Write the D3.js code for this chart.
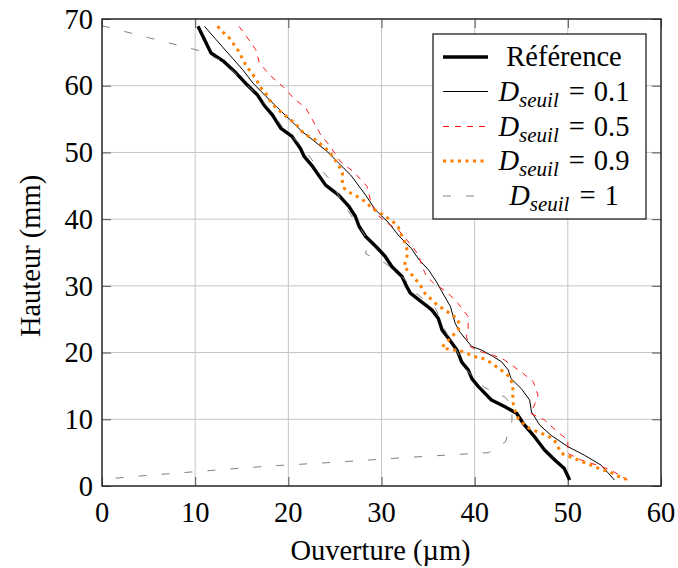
<!DOCTYPE html>
<html><head><meta charset="utf-8">
<script src="https://cdn.jsdelivr.net/npm/d3@7"></script>
<style>html,body{margin:0;padding:0;background:#fff;}svg{display:block;}</style>
</head><body>
<svg id="c" width="678" height="568"></svg>
<script>
// [Ouverture (µm), Hauteur (mm)]
const reference = [[10.3,68.9],[11.7,64.9],[13.1,63.6],[14.4,61.9],[15.6,60.1],[16.7,58.6],[17.4,57.1],[18.3,55.6],[19.2,53.6],[20.4,52.4],[21.3,50.6],[21.7,49.4],[22.6,47.9],[24.0,45.1],[25.4,43.6],[26.5,41.9],[27.2,40.4],[27.6,38.9],[28.3,37.4],[29.4,35.9],[30.4,34.4],[31.1,32.9],[32.2,31.4],[32.7,29.9],[33.1,28.9],[34.3,27.6],[35.4,26.4],[36.1,25.1],[36.5,23.4],[37.2,22.1],[38.1,20.4],[38.6,18.6],[39.3,17.4],[39.7,16.1],[40.4,14.9],[41.8,12.9],[43.2,11.9],[44.5,10.9],[45.2,9.4],[46.3,7.6],[47.5,5.4],[48.6,3.9],[49.6,2.65],[50.2,0.9]];
const seuil01 = [[11.0,68.9],[12.25,66.9],[13.7,64.6],[15.1,62.4],[16.2,60.4],[17.1,59.1],[18.7,56.9],[20.1,55.0],[21.5,53.1],[22.6,51.9],[24.2,50.1],[25.4,48.4],[26.7,46.6],[28.3,43.6],[29.35,41.4],[30.8,39.4],[31.8,37.6],[33.2,35.6],[34.0,34.0],[35.1,32.3],[35.9,30.6],[36.5,29.1],[37.4,26.9],[37.9,24.4],[38.4,23.1],[39.1,21.9],[39.7,20.9],[40.7,20.4],[42.0,19.4],[42.9,18.6],[43.6,17.4],[43.9,16.1],[45.0,14.6],[45.9,12.9],[46.1,11.1],[47.0,9.1],[48.2,7.6],[50.0,5.9],[51.8,4.6],[53.6,3.1],[55.0,0.9]];
const seuil05 = [[14.7,68.9],[15.5,67.4],[16.5,65.4],[16.9,63.4],[18.0,61.6],[19.4,59.9],[20.6,58.1],[21.9,56.6],[22.9,54.1],[23.5,52.6],[24.5,50.9],[25.6,48.6],[27.0,47.1],[28.45,44.9],[28.8,42.9],[29.35,40.9],[30.6,39.4],[31.8,38.4],[32.7,36.9],[33.3,35.9],[34.0,34.6],[34.3,33.1],[34.8,31.5],[35.6,30.4],[37.0,29.1],[38.2,27.4],[39.3,25.4],[39.3,23.4],[39.1,22.4],[39.5,20.9],[40.7,20.1],[42.0,19.6],[43.2,18.9],[45.0,17.1],[46.3,15.6],[46.8,13.6],[46.5,12.4],[46.0,10.9],[47.5,9.9],[48.9,8.1],[50.0,6.9],[50.0,4.9],[51.4,3.9],[53.2,3.1],[54.6,2.4],[56.4,0.9]];
const seuil09 = [[12.4,68.9],[13.0,68.0],[13.7,67.1],[14.2,66.1],[14.7,65.1],[15.1,64.0],[15.5,62.9],[16.1,61.9],[16.6,60.8],[17.1,59.6],[17.6,58.8],[18.1,57.6],[18.7,56.6],[19.4,55.9],[20.1,55.0],[20.8,54.3],[21.5,53.1],[22.2,52.4],[22.9,51.9],[23.6,51.1],[24.4,50.1],[24.9,49.1],[25.4,48.1],[25.8,46.9],[25.8,45.6],[26.0,44.6],[26.7,43.9],[27.5,43.3],[28.3,42.6],[29.0,41.6],[29.7,41.1],[30.4,40.4],[31.2,39.7],[31.8,38.8],[32.2,37.4],[32.55,36.4],[32.8,35.1],[32.7,34.1],[32.4,32.9],[33.1,31.9],[33.6,31.1],[34.2,30.0],[34.7,28.8],[35.4,27.9],[36.0,27.1],[36.8,26.4],[37.5,25.7],[38.2,25.0],[38.4,23.8],[37.7,22.6],[37.0,21.6],[36.5,20.8],[37.4,20.4],[38.2,20.4],[39.1,19.9],[40.0,19.4],[40.9,19.1],[41.6,18.6],[42.3,17.9],[43.1,17.1],[43.8,16.3],[44.1,15.1],[44.1,13.9],[44.1,12.6],[44.3,11.4],[44.7,10.1],[45.2,9.4],[45.9,8.6],[46.8,8.1],[47.7,7.6],[48.5,7.0],[48.9,6.0],[49.3,4.9],[50.2,4.4],[51.1,3.9],[51.8,3.5],[52.7,3.0],[53.6,2.5],[54.5,2.1],[55.3,1.5],[56.3,1.0]];
const seuil1 = [[0,69],[5,67.2],[10.6,65.2],[13,63.6],[15.5,60.2],[17.5,57.3],[19.3,54],[21.4,51],[22.8,48.4],[24.5,45.9],[25.6,43],[27,40],[28.5,37],[28.3,34.8],[30.4,33.4],[32.5,31],[33.6,29],[35.8,26.6],[36.8,23.4],[38,20.5],[39.1,17.4],[41,14.8],[43.3,13.3],[44,12],[44,9.7],[43.3,6.6],[41.5,5],[33,4.3],[25.5,3.6],[18,3],[10.5,2.2],[5,1.6],[0,1]];

const xTicks = [0,10,20,30,40,50,60];
const yTicks = [0,10,20,30,40,50,60,70];
const seriesNames = ["Référence","0.1","0.5","0.9","1"];

const FONT = "Liberation Serif";
const FS = 28.5;
const svg = d3.select("#c");
const L=102, R=661, T=19, B=486;
const x = d3.scaleLinear().domain([0,60]).range([L,R]);
const y = d3.scaleLinear().domain([0,70]).range([B,T]);

function txt(sel, size){ return sel.style("font-family",FONT).style("font-size",size+"px").attr("fill","#000"); }

// grid
const g = svg.append("g");
g.selectAll(".gx").data(xTicks).enter().append("line")
  .attr("x1",d=>x(d)).attr("x2",d=>x(d)).attr("y1",T).attr("y2",B)
  .attr("stroke","#c4c4c4").attr("stroke-width",1);
g.selectAll(".gy").data(yTicks).enter().append("line")
  .attr("y1",d=>y(d)).attr("y2",d=>y(d)).attr("x1",L).attr("x2",R)
  .attr("stroke","#c4c4c4").attr("stroke-width",1);

// axes with inward ticks on all sides
const tl = 9;
const axB = d3.axisBottom(x).tickValues(xTicks).tickSize(-tl).tickFormat("");
const axT = d3.axisTop(x).tickValues(xTicks).tickSize(-tl).tickFormat("");
const axL = d3.axisLeft(y).tickValues(yTicks).tickSize(-tl).tickFormat("");
const axR = d3.axisRight(y).tickValues(yTicks).tickSize(-tl).tickFormat("");
[[axB,`translate(0,${B})`],[axT,`translate(0,${T})`],[axL,`translate(${L},0)`],[axR,`translate(${R},0)`]].forEach(([a,t])=>{
  const ga = svg.append("g").attr("transform",t).call(a);
  ga.select(".domain").remove();
  ga.selectAll("text").remove();
  ga.selectAll("line").attr("stroke","#555").attr("stroke-width",1);
});

// tick labels
txt(svg.selectAll(".xl").data(xTicks).enter().append("text")
  .attr("x",d=>x(d)).attr("y",522).attr("text-anchor","middle"),FS).text(d=>d);
txt(svg.selectAll(".yl").data(yTicks).enter().append("text")
  .attr("x",93).attr("y",d=>y(d)).attr("dy","0.34em").attr("text-anchor","end"),FS).text(d=>d);

// axis titles
txt(svg.append("text").attr("x",(L+R)/2 - 1).attr("y",560).attr("text-anchor","middle"),FS).text("Ouverture (µm)");
txt(svg.append("text").attr("transform",`translate(40,256) rotate(-90)`).attr("text-anchor","middle"),FS).text("Hauteur (mm)");

// lines
const line = d3.line().x(d=>x(d[0])).y(d=>y(d[1]));
const styles = [
  {data:reference, stroke:"#000", w:3.4, dash:null},
  {data:seuil01, stroke:"#000", w:1, dash:null},
  {data:seuil05, stroke:"#ff1a1a", w:1, dash:"6,6"},
  {data:seuil09, stroke:"#ff8000", w:3, dash:"3,4.5"},
  {data:seuil1, stroke:"#808080", w:1, dash:"8,15"}
];
svg.append("clipPath").attr("id","cp").append("rect").attr("x",L).attr("y",T).attr("width",R-L).attr("height",B-T);
styles.forEach(s=>{
  svg.append("path").datum(s.data).attr("d",line).attr("fill","none")
    .attr("stroke",s.stroke).attr("stroke-width",s.w)
    .attr("stroke-dasharray",s.dash).attr("stroke-linejoin","round")
    .attr("clip-path","url(#cp)");
});

// frame
svg.append("rect").attr("x",L).attr("y",T).attr("width",R-L).attr("height",B-T)
  .attr("fill","none").attr("stroke","#222").attr("stroke-width",1.4);

// legend
const lg = svg.append("g");
lg.append("rect").attr("x",433).attr("y",34).attr("width",213).attr("height",185)
  .attr("fill","#fff").attr("stroke","#222").attr("stroke-width",1.3);
const rowY = [57,91.5,126.5,161,196];
const cx = 564;
styles.forEach((s,i)=>{
  lg.append("line").attr("x1",443).attr("x2",488).attr("y1",rowY[i]).attr("y2",rowY[i])
    .attr("stroke",s.stroke).attr("stroke-width",s.w).attr("stroke-dasharray",s.dash);
  const t = txt(lg.append("text").attr("x",cx).attr("y",rowY[i]+9).attr("text-anchor","middle"),FS);
  if(i===0){ t.text(seriesNames[0]); }
  else {
    t.append("tspan").style("font-family",FONT).style("font-style","italic").text("D");
    t.append("tspan").style("font-family",FONT).style("font-style","italic").style("font-size","21px").attr("dy",6).text("seuil");
    t.append("tspan").style("font-family",FONT).attr("dy",-6).attr("dx",10).text("=");
    t.append("tspan").style("font-family",FONT).attr("dx",9).text(seriesNames[i]);
  }
});
</script>
</body></html>
